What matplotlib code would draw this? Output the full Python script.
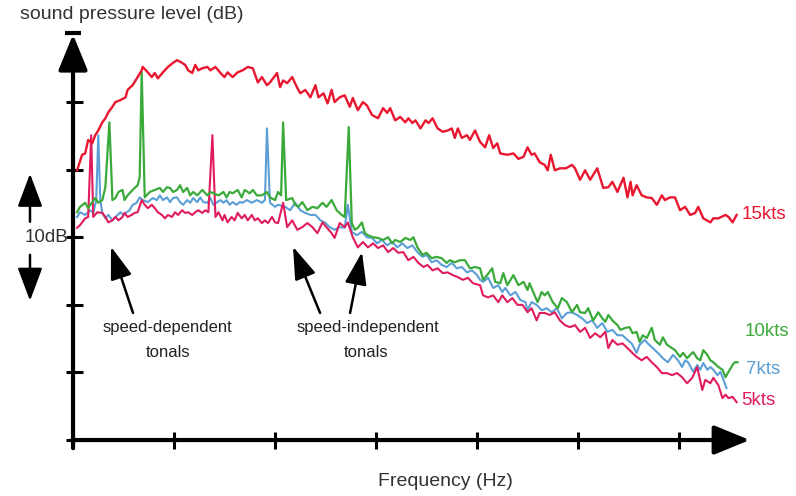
import matplotlib
matplotlib.use("Agg")
import matplotlib.pyplot as plt

plt.rcParams['font.family'] = ['Liberation Sans', 'DejaVu Sans']

# ---------------- data (frequency in arbitrary Hz units, level in dB) -------------
freq_15 = [4, 9, 12, 15, 19, 22, 25, 29, 32, 35, 39, 42, 47, 52, 54, 59, 64, 68, 69, 74,
           78, 81, 84, 89, 94, 99, 103, 108, 111, 114, 118, 121, 124, 128, 133, 136, 141, 146, 150, 153,
           158, 163, 168, 173, 178, 183, 187, 192, 195, 198, 202, 205, 208, 212, 217, 222, 225, 230, 235, 240,
           243, 248, 252, 256, 259, 264, 269, 274, 277, 282, 287, 291, 296, 302, 307, 311, 314, 319, 324, 329,
           332, 336, 339, 344, 349, 352, 356, 361, 366, 371, 375, 378, 381, 385, 390, 393, 398, 403, 408, 412,
           416, 420, 423, 430, 436, 441, 446, 450, 454, 457, 462, 467, 470, 473, 477, 482, 488, 494, 497, 502,
           507, 512, 519, 525, 530, 534, 539, 545, 549, 552, 554, 558, 563, 568, 573, 578, 583, 586, 591, 596,
           601, 606, 611, 616, 619, 624, 631, 634, 639, 646, 649, 653, 657]
level_15 = [39.9, 42.2, 42.4, 44.4, 43.9, 45.1, 45.8, 47.0, 47.6, 48.5, 49.3, 50.0, 50.3, 50.7, 51.8, 52.5, 53.7, 54.7, 55.2, 54.4,
            53.7, 54.3, 53.5, 54.4, 55.2, 55.8, 56.2, 55.8, 55.5, 54.7, 54.3, 55.5, 54.7, 55.0, 55.2, 54.7, 55.2, 54.3, 53.7, 54.4,
            53.7, 54.4, 54.7, 55.2, 55.0, 52.9, 53.7, 52.5, 52.9, 53.5, 54.3, 52.2, 53.2, 52.8, 53.7, 52.1, 51.3, 51.8, 50.7, 52.5,
            50.7, 51.3, 49.8, 51.8, 50.0, 50.7, 51.0, 49.3, 50.6, 48.8, 50.0, 49.5, 48.1, 47.6, 49.1, 48.4, 49.1, 47.3, 47.8, 47.0,
            47.6, 46.9, 47.3, 46.1, 47.3, 46.9, 47.6, 46.1, 45.6, 45.8, 46.1, 44.7, 46.1, 44.7, 45.1, 44.4, 45.8, 44.1, 43.3, 45.1,
            43.2, 43.9, 42.4, 42.2, 42.4, 41.6, 41.9, 43.3, 42.2, 42.4, 41.1, 40.7, 39.9, 42.2, 39.9, 40.2, 40.2, 40.7, 40.2, 38.5,
            39.9, 38.5, 40.2, 37.3, 37.4, 38.2, 36.7, 38.8, 35.9, 38.2, 36.2, 37.7, 36.2, 35.9, 35.8, 34.8, 36.2, 35.5, 35.9, 35.9,
            34.0, 34.5, 33.3, 33.6, 34.5, 32.8, 32.2, 32.8, 32.8, 33.3, 33.0, 32.2, 33.3]

freq_10 = [4, 7, 12, 15, 19, 22, 25, 29, 32, 36, 39, 42, 45, 49, 51, 54, 59, 64, 66, 68,
           71, 76, 81, 86, 89, 93, 96, 99, 103, 106, 109, 113, 116, 119, 123, 128, 133, 136, 139, 144,
           149, 152, 155, 158, 163, 167, 170, 175, 178, 182, 187, 192, 195, 200, 203, 206, 208, 211, 217, 220,
           223, 227, 232, 237, 242, 247, 251, 256, 261, 266, 269, 273, 276, 279, 282, 286, 289, 292, 297, 302,
           307, 312, 316, 319, 324, 329, 334, 337, 341, 346, 350, 355, 360, 365, 370, 373, 378, 383, 388, 393,
           398, 403, 406, 410, 415, 418, 423, 426, 430, 436, 441, 446, 450, 452, 457, 460, 464, 467, 470, 475,
           480, 484, 489, 494, 499, 502, 507, 510, 515, 520, 524, 527, 530, 534, 539, 542, 547, 551, 554, 558,
           561, 564, 568, 573, 576, 581, 584, 588, 591, 596, 601, 604, 608, 611, 614, 618, 621, 624, 628, 631,
           634, 639, 643, 646, 649, 653, 655, 658]
level_10 = [33.7, 34.5, 35.1, 34.3, 35.2, 35.8, 35.1, 35.5, 37.4, 47.0, 35.5, 35.8, 36.7, 37.0, 35.5, 36.2, 37.0, 37.7, 38.9, 54.4,
            35.9, 36.7, 37.0, 37.3, 36.7, 37.4, 37.3, 36.7, 37.0, 37.7, 36.7, 37.3, 36.2, 36.7, 36.2, 37.0, 36.2, 36.7, 36.5, 36.2,
            36.7, 35.9, 36.7, 36.5, 37.0, 35.9, 37.0, 36.5, 37.0, 36.2, 36.2, 36.7, 35.9, 35.5, 36.7, 36.2, 47.0, 35.5, 35.8, 34.8,
            34.5, 35.2, 34.0, 34.5, 34.3, 35.1, 34.5, 35.5, 34.0, 33.3, 33.0, 46.3, 32.1, 31.1, 31.4, 32.2, 30.6, 30.3, 30.0, 29.9,
            29.6, 30.0, 29.1, 29.6, 29.3, 29.9, 29.6, 30.0, 28.5, 27.4, 27.7, 26.9, 27.1, 26.9, 26.2, 26.6, 26.3, 26.6, 26.6, 25.4,
            25.6, 25.4, 23.7, 24.4, 25.4, 23.4, 23.2, 24.7, 22.9, 24.4, 22.9, 23.4, 22.2, 23.2, 21.4, 20.4, 21.9, 21.4, 21.9, 20.4,
            19.5, 21.0, 20.4, 18.9, 20.0, 18.9, 18.8, 19.5, 17.7, 18.9, 18.0, 17.5, 18.5, 17.7, 17.0, 16.3, 16.6, 16.7, 15.8, 16.0,
            14.5, 15.5, 15.1, 16.6, 14.8, 14.1, 15.2, 14.1, 13.8, 13.3, 12.3, 12.9, 12.1, 12.6, 13.0, 12.1, 11.8, 13.3, 12.6, 11.8,
            11.5, 10.8, 10.4, 9.3, 10.1, 11.1, 11.5, 11.5]

freq_7 = [4, 7, 12, 17, 20, 23, 25, 27, 29, 32, 35, 39, 42, 47, 50, 53, 56, 59, 63, 66,
          69, 74, 79, 83, 86, 89, 93, 96, 99, 103, 106, 109, 113, 116, 119, 123, 126, 129, 133, 136,
          139, 143, 146, 149, 152, 155, 158, 162, 165, 168, 172, 177, 182, 187, 190, 192, 195, 200, 203, 210,
          215, 220, 225, 230, 235, 240, 245, 250, 254, 259, 264, 269, 272, 276, 281, 286, 291, 296, 301, 306,
          311, 316, 321, 326, 331, 336, 341, 346, 350, 355, 360, 365, 370, 375, 380, 385, 390, 395, 400, 403,
          406, 411, 416, 421, 425, 428, 433, 438, 443, 448, 450, 454, 459, 464, 469, 474, 479, 484, 489, 494,
          499, 504, 509, 514, 519, 524, 529, 534, 539, 544, 549, 553, 558, 561, 566, 569, 574, 579, 584, 589,
          594, 599, 603, 606, 609, 614, 618, 621, 624, 628, 631, 634, 638, 641, 644, 647]
level_7 = [33.0, 33.7, 33.3, 34.0, 33.6, 35.5, 45.1, 35.5, 33.6, 32.8, 33.3, 32.5, 33.0, 33.7, 33.3, 33.7, 34.0, 34.8, 35.1, 35.9,
           35.5, 35.2, 35.8, 35.5, 36.2, 35.5, 35.9, 35.2, 35.8, 35.9, 35.2, 34.8, 35.5, 35.1, 35.8, 35.2, 35.9, 35.2, 35.1, 35.8,
           34.8, 35.2, 35.5, 35.1, 35.5, 34.8, 35.2, 34.8, 35.2, 35.1, 35.5, 35.1, 35.5, 35.1, 35.5, 46.1, 35.1, 34.5, 34.8, 34.5,
           34.0, 35.1, 34.0, 33.6, 33.3, 33.3, 32.5, 32.1, 31.5, 31.1, 31.5, 31.4, 34.8, 30.8, 30.3, 30.8, 30.0, 29.9, 29.1, 29.6,
           28.8, 29.3, 28.5, 29.1, 28.4, 28.8, 27.8, 27.1, 27.4, 26.3, 26.6, 25.9, 25.6, 26.2, 25.4, 25.6, 24.8, 25.1, 24.4, 23.7,
           23.4, 24.0, 22.5, 22.9, 21.9, 22.5, 21.4, 21.9, 20.7, 20.4, 19.2, 20.4, 20.0, 19.2, 19.5, 18.9, 19.5, 18.0, 18.8, 18.9,
           18.5, 18.0, 17.3, 17.7, 16.6, 17.3, 16.0, 16.3, 15.5, 15.5, 14.8, 14.3, 12.9, 14.1, 14.8, 14.3, 13.6, 12.9, 12.1, 11.5,
           12.6, 11.8, 10.8, 11.8, 11.5, 10.1, 11.1, 10.4, 11.4, 10.4, 10.8, 10.4, 9.6, 10.1, 8.9, 7.7]

freq_5 = [4, 7, 12, 15, 18, 20, 24, 29, 32, 35, 39, 42, 45, 49, 51, 54, 58, 61, 64, 68,
          71, 74, 78, 81, 84, 88, 91, 94, 98, 101, 104, 108, 111, 114, 118, 121, 124, 128, 131, 134,
          138, 141, 144, 148, 150, 153, 157, 160, 163, 167, 170, 173, 177, 180, 183, 187, 190, 193, 197, 200,
          203, 208, 212, 217, 222, 227, 232, 237, 242, 247, 251, 256, 259, 264, 269, 272, 277, 282, 287, 292,
          297, 302, 307, 312, 317, 322, 327, 332, 337, 342, 347, 351, 356, 361, 366, 371, 376, 381, 386, 391,
          396, 403, 406, 411, 416, 421, 425, 430, 435, 440, 445, 450, 454, 459, 462, 467, 472, 477, 482, 487,
          492, 497, 502, 507, 512, 517, 522, 527, 530, 534, 539, 544, 549, 553, 558, 563, 568, 573, 578, 583,
          588, 593, 598, 603, 608, 613, 618, 623, 626, 631, 634, 639, 643, 646, 649, 653, 657]
level_5 = [31.4, 31.8, 32.8, 33.0, 45.1, 33.0, 33.7, 33.6, 33.0, 32.2, 32.5, 33.0, 32.5, 33.0, 33.6, 33.0, 33.3, 33.6, 33.7, 35.5,
           34.8, 34.3, 34.8, 34.3, 33.7, 33.3, 32.8, 33.3, 33.0, 33.7, 33.3, 34.0, 33.6, 33.7, 33.3, 33.7, 34.0, 33.6, 34.0, 33.7,
           45.1, 33.0, 33.7, 32.5, 33.3, 32.2, 33.0, 32.5, 33.6, 32.8, 33.3, 32.5, 33.3, 32.5, 32.8, 32.1, 32.5, 32.1, 33.0, 32.2,
           32.1, 35.1, 31.5, 32.5, 31.1, 31.5, 32.1, 31.5, 30.6, 32.2, 31.5, 30.6, 29.9, 32.1, 31.5, 32.2, 30.0, 28.5, 29.3, 28.5,
           29.1, 28.4, 28.8, 27.8, 28.4, 27.7, 27.8, 26.6, 27.1, 26.2, 25.6, 25.9, 25.1, 25.4, 24.7, 24.8, 24.4, 24.1, 23.7, 24.0,
           23.2, 22.9, 21.4, 21.1, 21.4, 20.4, 21.4, 20.4, 21.0, 20.0, 20.0, 18.9, 19.5, 17.7, 18.8, 18.8, 18.5, 18.9, 17.7, 17.0,
           16.7, 17.0, 16.0, 16.6, 15.1, 15.8, 15.2, 16.0, 13.6, 14.8, 14.1, 14.3, 13.6, 13.0, 12.3, 11.8, 12.3, 11.5, 10.8, 9.9,
           9.9, 9.6, 9.9, 9.3, 8.4, 9.2, 10.8, 7.4, 8.9, 8.4, 9.2, 8.1, 6.2, 6.7, 6.2, 6.4, 5.6]

series_labels = ["15kts", "10kts", "7kts", "5kts"]
series_colors = ["#e8172f", "#3aaa3a", "#5b9fd6", "#e01c5c"]

x_tick_values = [0, 100, 200, 300, 400, 500, 600]
y_tick_values = [0, 10, 20, 30, 40, 50]

# ---------------- figure ----------------
fig = plt.figure(figsize=(7.96, 4.96), dpi=100)
ax = fig.add_axes([0, 0, 1, 1])
ax.set_xlim(-72.3, 715.8)
ax.set_ylim(-8.28, 65.1)
ax.set_axis_off()

lw_axis = 3.0
# axes with arrowheads
ax.annotate('', xy=(670, 0), xytext=(-1, 0),
            arrowprops=dict(arrowstyle='-|>,head_length=1.1,head_width=0.45', mutation_scale=20,
                            lw=lw_axis, color='black', shrinkA=0, shrinkB=0))
ax.annotate('', xy=(0, 60.0), xytext=(0, -1.2),
            arrowprops=dict(arrowstyle='-|>,head_length=1.1,head_width=0.45', mutation_scale=20,
                            lw=lw_axis, color='black', shrinkA=0, shrinkB=0))
ax.plot([-8, 8], [60.2, 60.2], color='black', lw=lw_axis, solid_capstyle='butt')

for xt in x_tick_values:
    ax.plot([xt, xt], [1.2, -1.3], color='black', lw=2.2, solid_capstyle='butt')
for yt in y_tick_values:
    ax.plot([-7, 10], [yt, yt], color='black', lw=2.2, solid_capstyle='butt')

# series
ax.plot(freq_7, level_7, color=series_colors[2], lw=1.5, solid_joinstyle='round')
ax.plot(freq_5, level_5, color=series_colors[3], lw=1.5, solid_joinstyle='round')
ax.plot(freq_10, level_10, color=series_colors[1], lw=1.6, solid_joinstyle='round')
ax.plot(freq_15, level_15, color=series_colors[0], lw=1.7, solid_joinstyle='round')

# series labels
label_pos = [(662, 33.3), (665, 16.0), (666, 10.5), (662, 5.8)]
for lab, col, (lx, ly) in zip(series_labels, series_colors, label_pos):
    ax.text(lx, ly, lab, color=col, fontsize=13.5, ha='left', va='center')

# axis titles
ax.text(58.5, 62.9, "sound pressure level (dB)", fontsize=14, color='#333333', ha='center', va='center')
ax.text(369, -6.1, "Frequency (Hz)", fontsize=14, color='#333333', ha='center', va='center')

# 10dB scale indicator
ax.text(-26.7, 29.9, "10dB", fontsize=13.5, color='#333333', ha='center', va='center')
ax.annotate('', xy=(-42.6, 39.4), xytext=(-42.6, 32.3),
            arrowprops=dict(arrowstyle='-|>,head_length=1.2,head_width=0.45', mutation_scale=17,
                            lw=1.8, color='black', shrinkA=0, shrinkB=0))
ax.annotate('', xy=(-42.6, 20.6), xytext=(-42.6, 27.4),
            arrowprops=dict(arrowstyle='-|>,head_length=1.2,head_width=0.45', mutation_scale=17,
                            lw=1.8, color='black', shrinkA=0, shrinkB=0))

# tonal annotations
ax.text(94, 16.6, "speed-dependent", fontsize=12, color='#222222', ha='center', va='center')
ax.text(94, 12.9, "tonals", fontsize=12, color='#222222', ha='center', va='center')
ax.text(292, 16.6, "speed-independent", fontsize=12, color='#222222', ha='center', va='center')
ax.text(290, 12.9, "tonals", fontsize=12, color='#222222', ha='center', va='center')

arrow_kw = dict(arrowstyle='-|>,head_length=1.25,head_width=0.42', mutation_scale=16,
                lw=1.8, color='black', shrinkA=0, shrinkB=0)
ax.annotate('', xy=(37.6, 28.6), xytext=(59.4, 18.8), arrowprops=arrow_kw)
ax.annotate('', xy=(217.8, 28.6), xytext=(244.6, 18.8), arrowprops=arrow_kw)
ax.annotate('', xy=(286.1, 27.8), xytext=(274.3, 18.8), arrowprops=arrow_kw)

fig.savefig("out.png", dpi=100)
